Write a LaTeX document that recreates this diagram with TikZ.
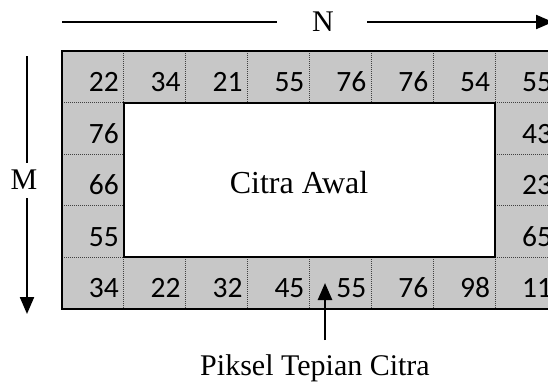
\documentclass[tikz,border=0pt]{standalone}
\usepackage{fontspec}
\setmainfont{Liberation Serif}
\newfontfamily\numfont{Carlito}
\usetikzlibrary{arrows.meta}
\begin{document}
\begin{tikzpicture}[x=1pt,y=-1pt,
  num/.style={anchor=base east,inner sep=0pt,font=\numfont\fontsize{29.5}{30}\selectfont},
  lbl/.style={anchor=base,inner sep=0pt,font=\fontsize{30}{32}\selectfont},
  sep/.style={densely dotted,line width=1pt,black!75},
  bord/.style={line width=2pt},
  arr/.style={line width=2.2pt,-{Triangle[length=17pt,width=14pt]}},
  plain/.style={line width=2.2pt}]
\useasboundingbox (0,0) rectangle (548,381);
\clip (0,0) rectangle (548,381);
% frame fill
\fill[black!22] (62,51) rectangle (557.2,309);
\fill[white] (123.9,102.6) rectangle (495.3,257.4);
% dotted separators
\foreach \i in {1,...,7}{
  \draw[sep] ({62+\i*61.9},51) -- ({62+\i*61.9},102.6);
  \draw[sep] ({62+\i*61.9},257.4) -- ({62+\i*61.9},309);
}
\foreach \j in {1,...,4}{
  \draw[sep] (62,{51+\j*51.6}) -- (123.9,{51+\j*51.6});
  \draw[sep] (495.3,{51+\j*51.6}) -- (557.2,{51+\j*51.6});
}
% borders
\draw[bord] (123.9,102.6) rectangle (495.3,257.4);
\draw[bord] (62,51) rectangle (557.2,309);
% numbers
\foreach \v [count=\i] in {22,34,21,55,76,76,54,55}
  \node[num] (t\i) at ({62+\i*61.9-5},91.5) {\v};
\foreach \v [count=\i] in {34,22,32,45,55,76,98,11}
  \node[num] (b\i) at ({62+\i*61.9-5},297.9) {\v};
\foreach \v [count=\j] in {76,66,55}
  \node[num] (l\j) at (118.9,{51+\j*51.6+40.5}) {\v};
\foreach \v [count=\j] in {43,23,65}
  \node[num] (r\j) at (552.2,{51+\j*51.6+40.5}) {\v};
% center text
\node[anchor=base,inner sep=0pt,font=\fontsize{32}{34}\selectfont] (citra) at (299,193) {Citra Awal};
% N arrow
\node[lbl] (N) at (323,31) {N};
\coordinate (nl1) at (62,22);
\coordinate (nl2) at (277,22);
\coordinate (nr1) at (367,22);
\coordinate (nr2) at (553,22);
\draw[plain] (nl1) -- (nl2);
\draw[arr] (nr1) -- (nr2);
% M arrow
\node[lbl] (M) at (24,189) {M};
\coordinate (mt1) at (27,56);
\coordinate (mt2) at (27,163);
\coordinate (mb1) at (27,198);
\coordinate (mb2) at (27,314);
\draw[plain] (mt1) -- (mt2);
\draw[arr] (mb1) -- (mb2);
% Piksel label
\node[lbl] (piksel) at (315,375) {Piksel Tepian Citra};
\coordinate (ptail) at (325,340);
\coordinate (ptip) at (325,283);
\draw[arr,line width=2.6pt] (ptail) -- (ptip);
\end{tikzpicture}
\end{document}
